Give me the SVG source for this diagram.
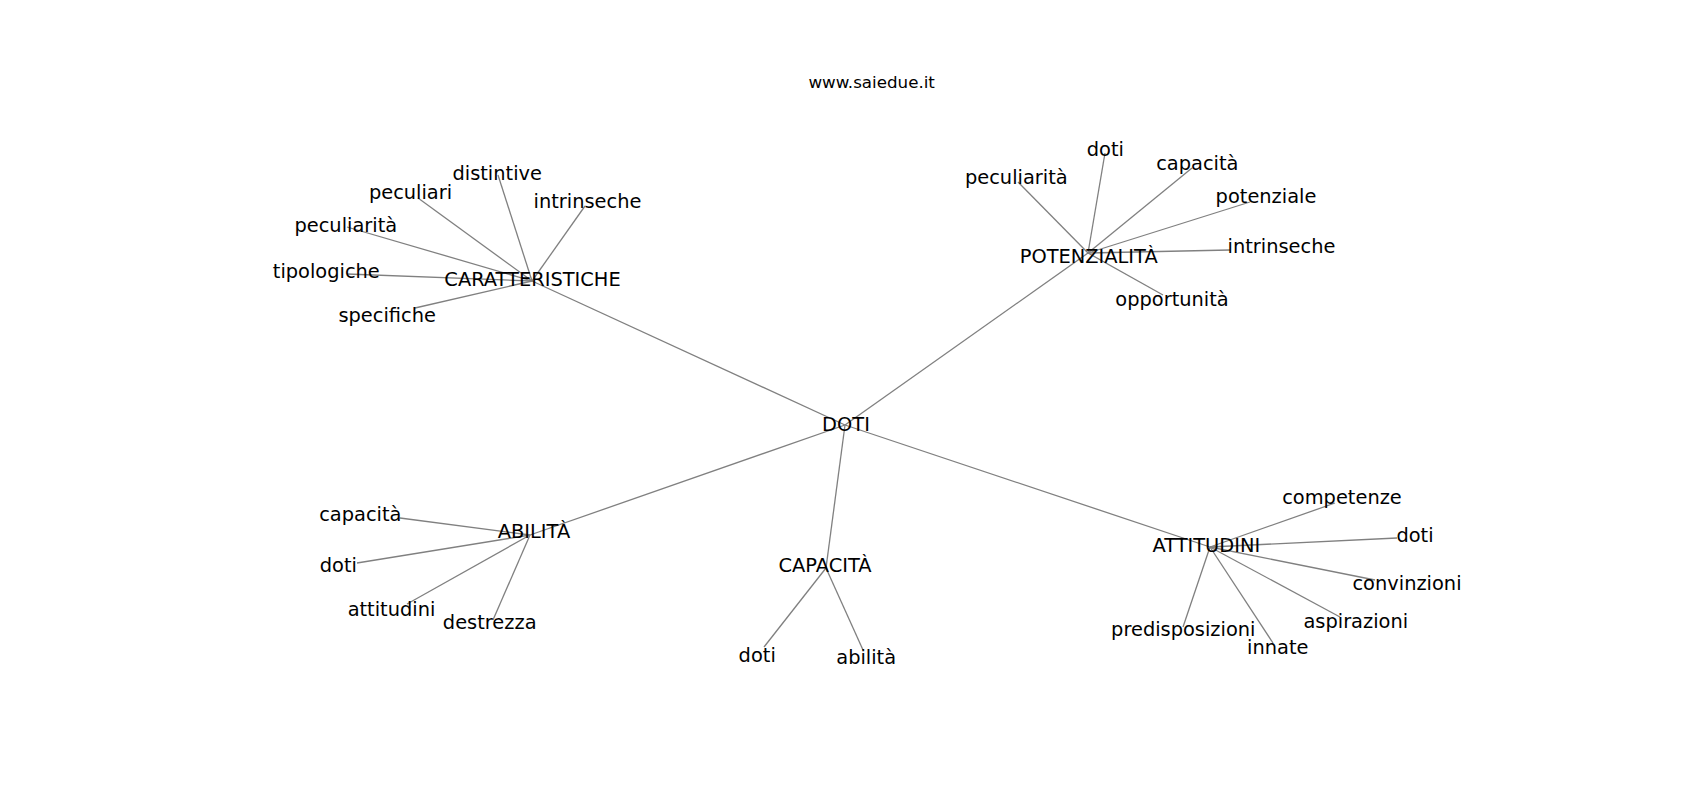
<svg xmlns="http://www.w3.org/2000/svg" width="1700" height="800" viewBox="0 0 1700 800">
<style>
.e{stroke:#808080;stroke-width:1.3;fill:none}
text{font-family:"DejaVu Sans","Liberation Sans",sans-serif;font-size:19.4px;fill:#000;text-anchor:middle}
.t{font-size:16.7px}
</style>
<rect width="1700" height="800" fill="#fff"/>
<text class="t" x="871.7" y="87.7">www.saiedue.it</text>
<g id="connectors">
<line class="e" x1="845" y1="425" x2="532" y2="281"/>
<line class="e" x1="845" y1="425" x2="1088" y2="253"/>
<line class="e" x1="845" y1="425" x2="530" y2="535"/>
<line class="e" x1="845" y1="425" x2="826" y2="568"/>
<line class="e" x1="845" y1="425" x2="1210" y2="547"/>
<line class="e" x1="532" y1="281" x2="498" y2="175"/>
<line class="e" x1="532" y1="281" x2="418" y2="198"/>
<line class="e" x1="532" y1="281" x2="585" y2="206"/>
<line class="e" x1="532" y1="281" x2="347" y2="227"/>
<line class="e" x1="532" y1="281" x2="347" y2="274"/>
<line class="e" x1="532" y1="281" x2="415" y2="308"/>
<line class="e" x1="1088" y1="253" x2="1105" y2="153"/>
<line class="e" x1="1088" y1="253" x2="1192" y2="168"/>
<line class="e" x1="1088" y1="253" x2="1018" y2="182"/>
<line class="e" x1="1088" y1="253" x2="1250" y2="202"/>
<line class="e" x1="1088" y1="253" x2="1230" y2="250"/>
<line class="e" x1="1088" y1="253" x2="1163" y2="295"/>
<line class="e" x1="1210" y1="547" x2="1335" y2="503"/>
<line class="e" x1="1210" y1="547" x2="1397" y2="538"/>
<line class="e" x1="1210" y1="547" x2="1375" y2="580"/>
<line class="e" x1="1210" y1="547" x2="1340" y2="617"/>
<line class="e" x1="1210" y1="547" x2="1183" y2="627"/>
<line class="e" x1="1210" y1="547" x2="1273" y2="643"/>
<line class="e" x1="530" y1="535" x2="400" y2="518"/>
<line class="e" x1="530" y1="535" x2="357" y2="563"/>
<line class="e" x1="530" y1="535" x2="407" y2="604"/>
<line class="e" x1="530" y1="535" x2="493" y2="620"/>
<line class="e" x1="826" y1="568" x2="764" y2="647"/>
<line class="e" x1="826" y1="568" x2="863" y2="650"/>
</g>
<g id="n-doti"><text x="846" y="430.5">DOTI</text></g>
<g id="n-caratteristiche"><text x="532.5" y="286.2">CARATTERISTICHE</text></g>
<g id="n-potenzialita"><text x="1088.7" y="263.2">POTENZIALITÀ</text></g>
<g id="n-abilita"><text x="534" y="537.8">ABILITÀ</text></g>
<g id="n-capacita"><text x="825" y="571.5">CAPACITÀ</text></g>
<g id="n-attitudini"><text x="1206.3" y="551.5">ATTITUDINI</text></g>
<g id="n-car-distintive"><text x="497.2" y="180">distintive</text></g>
<g id="n-car-peculiari"><text x="410.5" y="199">peculiari</text></g>
<g id="n-car-intrinseche"><text x="587.5" y="208">intrinseche</text></g>
<g id="n-car-peculiarita"><text x="345.8" y="231.7">peculiarità</text></g>
<g id="n-car-tipologiche"><text x="326.3" y="278.4">tipologiche</text></g>
<g id="n-car-specifiche"><text x="387.2" y="321.7">specifiche</text></g>
<g id="n-pot-doti"><text x="1105.3" y="155.7">doti</text></g>
<g id="n-pot-capacita"><text x="1197.3" y="170.2">capacità</text></g>
<g id="n-pot-peculiarita"><text x="1016.3" y="184">peculiarità</text></g>
<g id="n-pot-potenziale"><text x="1266" y="202.5">potenziale</text></g>
<g id="n-pot-intrinseche"><text x="1281.5" y="253.4">intrinseche</text></g>
<g id="n-pot-opportunita"><text x="1172" y="306">opportunità</text></g>
<g id="n-att-competenze"><text x="1342" y="504.2">competenze</text></g>
<g id="n-att-doti"><text x="1415" y="542.4">doti</text></g>
<g id="n-att-convinzioni"><text x="1407" y="590.3">convinzioni</text></g>
<g id="n-att-aspirazioni"><text x="1355.8" y="627.6">aspirazioni</text></g>
<g id="n-att-predisposizioni"><text x="1183.3" y="635.7">predisposizioni</text></g>
<g id="n-att-innate"><text x="1277.8" y="654.2">innate</text></g>
<g id="n-abi-capacita"><text x="360.3" y="521.4">capacità</text></g>
<g id="n-abi-doti"><text x="338.3" y="572.4">doti</text></g>
<g id="n-abi-attitudini"><text x="391.5" y="615.8">attitudini</text></g>
<g id="n-abi-destrezza"><text x="489.7" y="629.2">destrezza</text></g>
<g id="n-cap-doti"><text x="757.2" y="661.5">doti</text></g>
<g id="n-cap-abilita"><text x="866.2" y="664.2">abilità</text></g>
</svg>
